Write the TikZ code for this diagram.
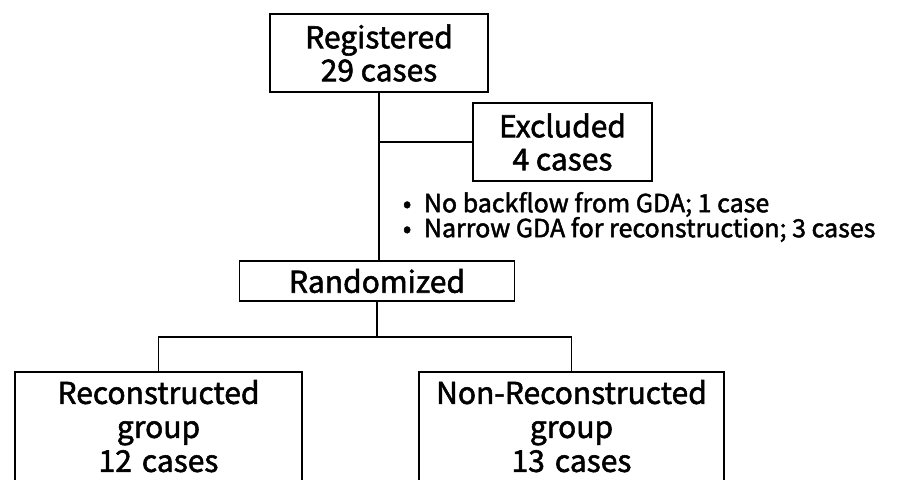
\documentclass[tikz,border=0pt]{standalone}
\usepackage{fontspec}
\setmainfont{Noto Sans CJK JP}[FakeBold=1.8]
\begin{document}
\begin{tikzpicture}
    [x=0.5pt,y=-0.5pt,line width=0.9pt,
     box/.style={shape=rectangle,draw=black,align=center,inner sep=0pt,
       font=\fontsize{15}{16.5}\selectfont},
     grp/.style={box,font=\fontsize{15}{17}\selectfont,anchor=north,
       execute at begin node={\rule{0pt}{16pt}},
       execute at end node={\rule[-10pt]{0pt}{10pt}}},
     link/.style={-,draw=black}]
    \path [use as bounding box,clip] (0,0) rectangle (918,480);
    \node [box,minimum width=109pt,minimum height=39pt] (reg) at (379,53) {Registered\\29 cases};
    \node [box,minimum width=89.5pt,minimum height=39pt] (excl) at (562.5,142) {Excluded\\4 cases};
    \node [align=left,anchor=west,inner sep=0pt,font=\fontsize{12.5}{12.5}\selectfont] (why) at (402,217)
      {•\hspace{0.5em}No backflow from GDA; 1 case\\•\hspace{0.5em}Narrow GDA for reconstruction; 3 cases};
    \node [box,minimum width=137.5pt,minimum height=20pt] (rand) at (377,281) {Randomized};
    \node [grp,text width=143.5pt] (rec) at (158.5,371) {Reconstructed\\group\\12 cases};
    \node [grp,text width=152.5pt] (nrec) at (571.5,371) {Non-Reconstructed\\group\\13 cases};
    \coordinate (split) at (rand.south |- 0,337);
    \draw [link] (reg.south) -- (reg.south |- rand.north);
    \draw [link] (reg.south |- excl.west) -- (excl.west);
    \draw [link] (rand.south) -- (split);
    \draw [link] (rec.north) |- (split) -| (nrec.north);
\end{tikzpicture}
\end{document}
